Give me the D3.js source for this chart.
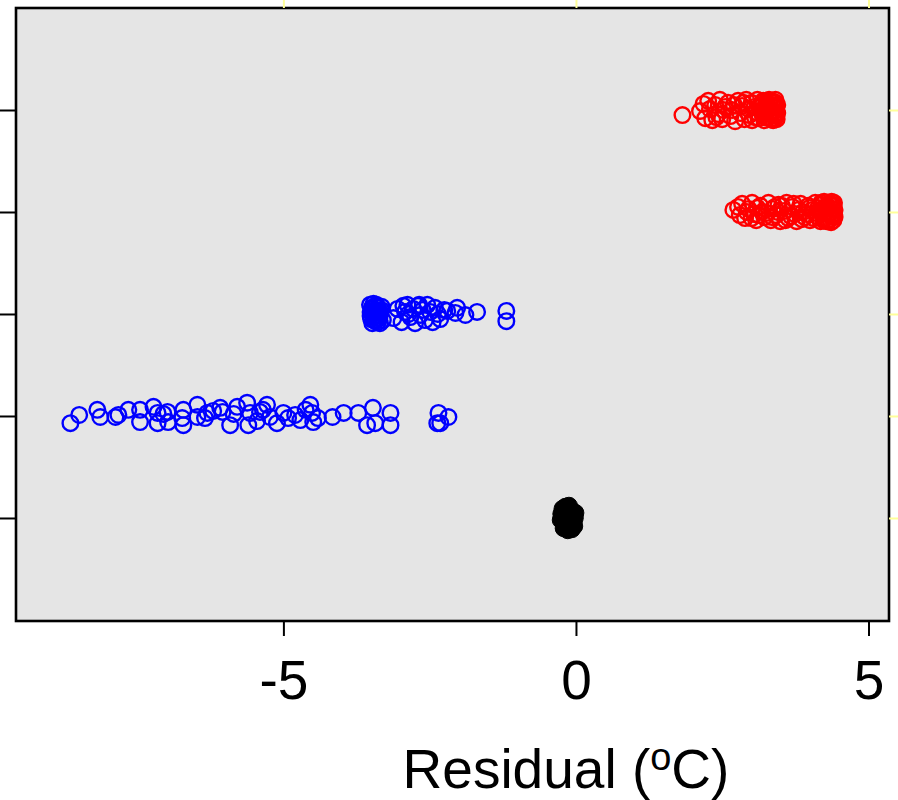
<!DOCTYPE html>
<html>
<head>
<meta charset="utf-8">
<script src="https://cdn.jsdelivr.net/npm/d3@7/dist/d3.min.js"></script>
<style>
  body { margin: 0; background: #fff; }
  svg { display: block; font-family: "Liberation Sans", Arial, sans-serif; }
</style>
</head>
<body>
<svg id="chart" width="898" height="800"></svg>
<script>
// tick values
const xTicks = [-5, 0, 5]
const yLevels = [1, 2, 3, 4, 5]

// points per group: [residual, vertical jitter]
const grp1 = [  // black, filled
  [-0.22, 0.06], [-0.18, 0.11], [-0.12, 0.12], [-0.08, 0.08], [-0.05, 0.02],
  [-0.20, 0.00], [-0.15, 0.03], [-0.10, -0.01], [-0.04, -0.04], [-0.19, -0.07],
  [-0.13, -0.10], [-0.07, -0.11], [-0.16, -0.03], [-0.11, 0.05], [-0.26, -0.02],
  [-0.02, 0.00], [-0.09, -0.06], [-0.17, 0.09], [-0.06, 0.04], [-0.14, -0.12],
  [-0.25, 0.04], [-0.03, -0.08], [-0.21, -0.10], [-0.01, 0.05], [-0.23, 0.09]
]
const grp2 = [  // blue, wide spread
  [-8.64, -0.07], [-8.49, 0.01], [-8.18, 0.06], [-8.13, -0.01], [-7.87, -0.01],
  [-7.82, 0.01], [-7.65, 0.06], [-7.45, 0.06], [-7.45, -0.06], [-7.22, 0.09],
  [-7.15, 0.03], [-7.15, -0.07], [-6.98, 0.04], [-6.97, -0.06], [-6.71, 0.06],
  [-6.73, -0.02], [-6.71, -0.09], [-6.47, 0.11], [-6.47, -0.01], [-6.34, -0.02],
  [-6.30, 0.03], [-6.08, 0.08], [-6.04, 0.04], [-5.91, -0.09], [-5.79, 0.09],
  [-5.62, 0.13], [-5.57, 0.03], [-5.60, -0.09], [-5.40, 0.04], [-5.28, 0.11],
  [-5.23, -0.01], [-5.11, -0.07], [-5.00, 0.03], [-4.92, -0.02], [-4.80, 0.01],
  [-4.71, -0.04], [-4.54, 0.11], [-4.51, 0.03], [-4.49, -0.06], [-4.41, -0.02],
  [-4.16, -0.01], [-3.97, 0.03], [-3.72, 0.03], [-3.57, -0.09], [-3.47, 0.08],
  [-3.43, -0.07], [-3.17, 0.03], [-3.17, -0.09], [-2.35, 0.03], [-2.18, -0.01],
  [-2.37, -0.07], [-2.32, -0.07], [-5.45, -0.05], [-5.35, 0.06], [-6.20, 0.05],
  [-5.85, 0.02], [-4.62, 0.06], [-7.05, 0.02]
]
const grp3 = [  // blue, narrow
  [-3.52, 0.09], [-3.51, 0.02], [-3.50, -0.05], [-3.49, 0.06], [-3.48, -0.09],
  [-3.47, 0.00], [-3.46, 0.10], [-3.45, -0.03], [-3.44, 0.04], [-3.43, -0.07],
  [-3.42, 0.08], [-3.41, -0.01], [-3.40, 0.03], [-3.39, -0.08], [-3.38, 0.06],
  [-3.36, -0.04], [-3.34, 0.01], [-3.32, 0.07], [-3.30, -0.06], [-3.05, 0.05],
  [-3.51, -0.02], [-3.49, 0.01], [-3.47, 0.05], [-3.45, -0.06], [-3.43, 0.02],
  [-3.41, 0.09], [-3.39, -0.04], [-3.37, 0.02], [-3.35, -0.09], [-3.33, 0.04],
  [-2.98, -0.08], [-2.92, 0.02], [-2.88, 0.09], [-2.83, -0.03], [-2.78, 0.05],
  [-2.75, -0.09], [-2.70, 0.08], [-2.66, -0.01], [-2.62, 0.04], [-2.58, -0.06],
  [-2.54, 0.09], [-2.49, 0.02], [-2.45, -0.08], [-2.41, 0.06], [-2.36, 0.00],
  [-2.32, -0.05], [-2.25, 0.04], [-2.20, 0.03], [-2.06, 0.01], [-2.03, 0.06],
  [-1.89, -0.01], [-1.69, 0.02], [-1.19, 0.03], [-1.19, -0.07], [-2.95, 0.08],
  [-3.12, -0.04], [-2.86, 0.00], [-2.68, 0.09]
]
const grp4 = [  // red, lower
  [2.69, 0.02], [2.77, 0.05], [2.80, -0.03], [2.84, 0.08], [2.89, -0.06],
  [2.95, 0.03], [3.01, 0.09], [3.05, -0.02], [3.08, -0.08], [3.15, 0.06],
  [3.18, 0.00], [3.22, -0.05], [3.29, 0.09], [3.33, -0.08], [3.36, 0.03],
  [3.42, -0.03], [3.46, 0.07], [3.49, -0.09], [3.56, 0.01], [3.60, 0.09],
  [3.63, -0.06], [3.70, 0.05], [3.74, -0.02], [3.77, -0.09], [3.84, 0.08],
  [3.88, 0.00], [3.91, -0.05], [3.97, 0.06], [4.00, -0.08], [4.04, 0.02],
  [4.09, 0.09], [4.12, -0.04], [4.14, 0.04], [4.18, -0.09], [4.20, 0.07],
  [4.22, -0.02], [4.24, 0.10], [4.27, -0.06], [4.29, 0.03], [4.31, -0.09],
  [4.33, 0.08], [4.35, 0.00], [4.37, -0.04], [4.38, 0.06], [4.40, -0.08],
  [4.42, 0.02], [4.41, 0.09], [4.36, -0.10], [3.52, 0.06], [3.95, -0.02],
  [3.10, 0.04], [3.25, -0.01], [3.40, 0.05], [3.67, -0.04], [3.80, 0.02],
  [4.06, -0.06], [4.16, 0.01], [4.26, 0.05], [4.32, -0.02], [4.39, 0.03],
  [4.42, -0.05], [4.28, -0.09], [4.19, 0.09], [4.40, 0.07], [4.34, -0.07],
  [4.30, 0.06], [4.23, -0.08], [4.21, 0.03], [4.37, 0.10], [4.41, -0.02],
  [3.58, -0.08], [3.72, 0.08], [3.86, -0.07], [3.35, -0.05], [3.12, -0.03],
  [2.92, 0.00], [3.00, -0.06], [3.45, 0.00], [3.99, 0.04], [4.10, -0.01]
]
const grp5 = [  // red, upper
  [1.82, -0.05], [2.12, -0.01], [2.18, 0.06], [2.21, -0.08], [2.26, 0.09],
  [2.29, 0.01], [2.33, -0.10], [2.38, 0.05], [2.43, -0.04], [2.46, 0.10],
  [2.50, -0.09], [2.55, 0.03], [2.60, 0.07], [2.64, -0.06], [2.67, 0.00],
  [2.72, -0.11], [2.77, 0.09], [2.81, -0.03], [2.84, 0.04], [2.88, -0.09],
  [2.91, 0.10], [2.95, 0.01], [2.96, -0.05], [3.00, 0.07], [3.01, -0.10],
  [3.05, 0.03], [3.08, -0.02], [3.10, 0.10], [3.12, -0.08], [3.15, 0.05],
  [3.17, 0.00], [3.19, -0.05], [3.20, 0.09], [3.22, -0.10], [3.24, 0.03],
  [3.25, -0.02], [3.27, 0.06], [3.29, -0.07], [3.31, 0.01], [3.32, 0.09],
  [3.34, -0.04], [3.36, 0.04], [3.37, -0.10], [3.39, -0.01], [3.41, 0.07],
  [3.42, -0.06], [3.42, 0.02], [3.44, -0.03], [3.38, 0.08], [3.40, -0.08],
  [3.35, 0.00], [3.33, -0.02], [3.28, 0.03], [3.23, -0.07], [3.18, 0.07],
  [3.44, 0.05], [3.43, -0.09], [3.30, 0.10], [2.40, -0.07], [2.70, 0.05],
  [3.41, 0.10], [3.38, -0.05], [3.36, 0.07], [3.33, -0.09], [3.26, 0.08],
  [3.21, -0.02], [3.14, 0.02], [3.06, -0.07], [2.86, 0.07], [2.52, 0.00]
]

const groups = [
  { level: 1, pts: grp1, color: '#000000', filled: true },
  { level: 2, pts: grp2, color: '#0000ff', filled: false },
  { level: 3, pts: grp3, color: '#0000ff', filled: false },
  { level: 4, pts: grp4, color: '#ff0000', filled: false },
  { level: 5, pts: grp5, color: '#ff0000', filled: false }
]

const svg = d3.select('#chart')
const panel = { left: 16, right: 889, top: 8, bottom: 621 }

const x = d3.scaleLinear().domain([-9.57, 5.35]).range([panel.left, panel.right])
const y = d3.scaleLinear().domain([-0.01, 6.0]).range([panel.bottom, panel.top])

// panel background
svg.append('rect')
  .attr('x', panel.left).attr('y', panel.top)
  .attr('width', panel.right - panel.left).attr('height', panel.bottom - panel.top)
  .attr('fill', '#e5e5e5')

// points
groups.forEach(g => {
  svg.append('g').selectAll('circle').data(g.pts)
    .enter().append('circle')
    .attr('cx', d => x(d[0]))
    .attr('cy', d => y(g.level + d[1]))
    .attr('r', g.filled ? 8.5 : 7.8)
    .attr('fill', g.filled ? g.color : 'none')
    .attr('stroke', g.color)
    .attr('stroke-width', g.filled ? 1 : 2.4)
})

// frame
svg.append('rect')
  .attr('x', panel.left).attr('y', panel.top)
  .attr('width', panel.right - panel.left).attr('height', panel.bottom - panel.top)
  .attr('fill', 'none').attr('stroke', '#000').attr('stroke-width', 2.6)

// bottom axis
const xAxis = d3.axisBottom(x).tickValues(xTicks).tickSize(15).tickPadding(24)
  .tickFormat(d => d < 0 ? '-' + Math.abs(d) : d)
svg.append('g').attr('transform', `translate(0,${panel.bottom})`).call(xAxis)
  .call(g => g.select('.domain').remove())
  .call(g => g.selectAll('line').attr('stroke', '#000').attr('stroke-width', 2))
  .call(g => g.selectAll('text').attr('font-size', 55).attr('fill', '#000')
    .attr('font-family', '"Liberation Sans", Arial, sans-serif'))

// top axis (yellow ticks)
svg.append('g').attr('transform', `translate(0,${panel.top})`)
  .call(d3.axisTop(x).tickValues(xTicks).tickSize(9).tickFormat(''))
  .call(g => g.select('.domain').remove())
  .call(g => g.selectAll('line').attr('stroke', '#ffff99').attr('stroke-width', 2))

// left axis
svg.append('g').attr('transform', `translate(${panel.left},0)`)
  .call(d3.axisLeft(y).tickValues(yLevels).tickSize(16).tickFormat(''))
  .call(g => g.select('.domain').remove())
  .call(g => g.selectAll('line').attr('stroke', '#000').attr('stroke-width', 2))

// right axis (yellow ticks)
svg.append('g').attr('transform', `translate(${panel.right},0)`)
  .call(d3.axisRight(y).tickValues(yLevels).tickSize(10).tickFormat(''))
  .call(g => g.select('.domain').remove())
  .call(g => g.selectAll('line').attr('stroke', '#ffff99').attr('stroke-width', 2))

// x label
const xlab = svg.append('text')
  .attr('x', 566).attr('y', 788)
  .attr('text-anchor', 'middle')
  .attr('font-size', 55)
  .attr('fill', '#000')
xlab.append('tspan').text('Residual (')
xlab.append('tspan').attr('font-size', 38).attr('dy', -18).text('o')
xlab.append('tspan').attr('dy', 18).text('C)')
</script>
</body>
</html>
